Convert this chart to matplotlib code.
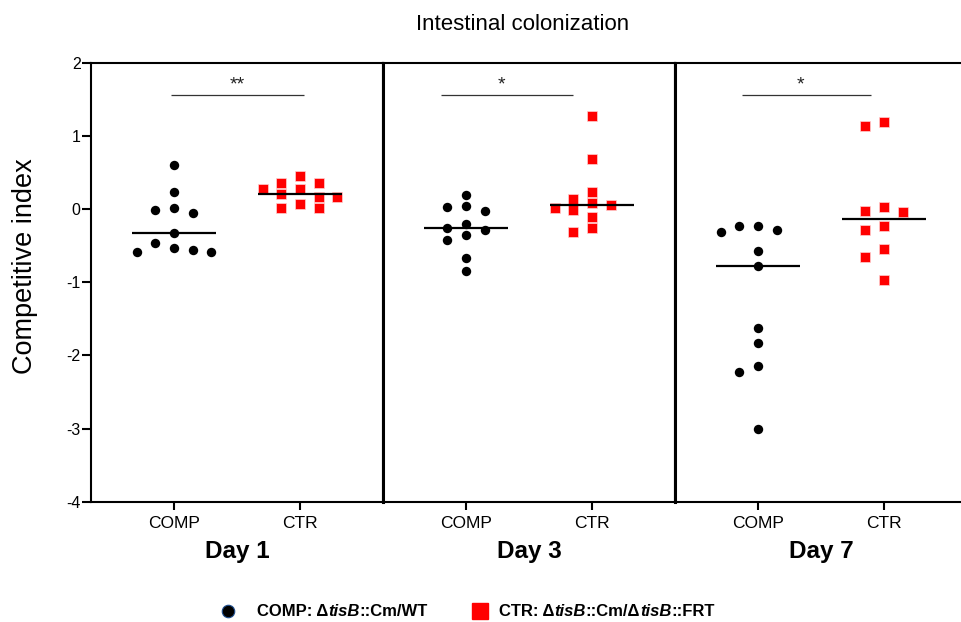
import numpy as np
import matplotlib
matplotlib.use("Agg")
import matplotlib.pyplot as plt
from matplotlib.offsetbox import TextArea, HPacker, AnchoredOffsetbox

plt.rcParams['font.family'] = ['Liberation Sans', 'DejaVu Sans']

# ---------------- data ----------------
days = ['Day 1', 'Day 3', 'Day 7']
groups = ['COMP', 'CTR']
comp_values = [
    [0.60, 0.23, 0.02, -0.02, -0.06, -0.33, -0.46, -0.59, -0.53, -0.59, -0.56],
    [0.19, -0.03, 0.03, 0.04, -0.20, -0.35, -0.28, -0.26, -0.42, -0.67, -0.85],
    [-0.28, -0.32, -0.23, -0.23, -0.57, -0.78, -1.62, -1.83, -2.15, -2.23, -3.00],
]
ctr_values = [
    [0.45, 0.27, 0.35, 0.16, 0.01, 0.21, 0.07, 0.36, 0.16, 0.02, 0.27],
    [1.27, 0.68, 0.23, 0.14, -0.01, 0.08, 0.01, 0.05, -0.11, -0.32, -0.26],
    [1.19, 1.13, -0.03, -0.04, 0.03, -0.23, -0.29, -0.54, -0.66, -0.97],
]
significance = ['**', '*', '*']
yticks = [2, 1, 0, -1, -2, -3, -4]

# ---------------- layout ----------------
W, H = 962, 622
fig = plt.figure(figsize=(W / 100, H / 100), dpi=100)
ax_left_px, panel_w_px = 91, 292
ax_top_px, ax_bot_px = 62.7, 501.7
tick0_px, unit_px = 83, 126
xlim = (-tick0_px / unit_px, (panel_w_px - tick0_px) / unit_px)
sig_spans = [(-0.02, 1.03), (-0.20, 0.85), (-0.13, 0.90)]
star_x = [0.50, 0.28, 0.34]
step = 0.148      # swarm column step (x units)
ythresh = 0.14    # vertical collision distance (y units)


def swarm(values):
    vals = np.asarray(values, float)
    order = np.argsort(-vals, kind='stable')
    offs = np.zeros(len(vals))
    placed = []
    cands = [0, -1, 1, -2, 2, -3, 3, -4, 4]
    for i in order:
        for k in cands:
            if all(not (offs[j] == k and abs(vals[i] - vals[j]) < ythresh) for j in placed):
                offs[i] = k
                break
        placed.append(i)
    return offs * step


axes = []
for p, day in enumerate(days):
    left = (ax_left_px + p * panel_w_px) / W
    ax = fig.add_axes([left, (H - ax_bot_px) / H, panel_w_px / W, (ax_bot_px - ax_top_px) / H])
    axes.append(ax)
    ax.set_xlim(*xlim)
    ax.set_ylim(-4, 2)
    for s in ax.spines.values():
        s.set_linewidth(1.5)
        s.set_color('black')
    if p > 0:
        ax.spines['left'].set_linewidth(2.2)
    if p == 2:
        ax.spines['right'].set_visible(False)

    cv = comp_values[p]
    tv = ctr_values[p]
    ax.scatter(0 + swarm(cv), cv, s=46, marker='o', color='black', zorder=3, linewidths=0)
    ax.scatter(1 + swarm(tv), tv, s=44, marker='s', color='#ff0000', edgecolors='#ffd0d0',
               linewidths=0.5, zorder=3)
    ax.hlines([np.median(cv)], -0.33, 0.33, color='black', lw=1.6, zorder=4)
    ax.hlines([np.median(tv)], 1 - 0.33, 1 + 0.33, color='black', lw=1.6, zorder=4)

    x0, x1 = sig_spans[p]
    ax.hlines([1.56], x0, x1, color='#333333', lw=0.9)
    ax.text(star_x[p], 1.69, significance[p], ha='center', va='center', fontsize=14, color='#222222')

    ax.set_xticks([0, 1])
    ax.set_xticklabels(groups, fontsize=12.5)
    ax.tick_params(axis='x', length=6, width=1.5, pad=4, direction='out')
    if p == 0:
        ax.set_yticks(yticks)
        ax.set_yticklabels([str(t) for t in yticks], fontsize=11.5)
        ax.tick_params(axis='y', length=6.5, width=1.5, pad=1, direction='out')
    else:
        ax.set_yticks([])
    ax.set_xlabel(day, fontsize=17.5, fontweight='bold', labelpad=7)

fig.text(25 / W, 1 - 266 / H, 'Competitive index', rotation=90, ha='center', va='center', fontsize=19.5)
fig.text(523 / W, 1 - 24 / H, 'Intestinal colonization', ha='center', va='center', fontsize=16)

# ---------------- legend ----------------
leg_y = 1 - 611 / H
fig.lines.append(plt.Line2D([228 / W], [leg_y], transform=fig.transFigure, marker='o', markersize=9,
                            color='black', markeredgecolor='#1f4f8f', markeredgewidth=0.8, linestyle='none'))
fig.lines.append(plt.Line2D([480 / W], [leg_y], transform=fig.transFigure, marker='s', markersize=11,
                            color='#ff0000', linestyle='none'))


def legend_text(x_px, parts):
    boxes = []
    for txt, style in parts:
        boxes.append(TextArea(txt, textprops=dict(fontsize=12, fontweight='bold', fontstyle=style)))
    pack = HPacker(children=boxes, align='baseline', pad=0, sep=0)
    ab = AnchoredOffsetbox(loc='center left', child=pack, pad=0, frameon=False,
                           bbox_to_anchor=(x_px / W, leg_y), bbox_transform=fig.transFigure, borderpad=0)
    fig.add_artist(ab)


legend_text(257, [('COMP: \u0394', 'normal'), ('tisB', 'italic'), ('::Cm/WT', 'normal')])
legend_text(499, [('CTR: \u0394', 'normal'), ('tisB', 'italic'), ('::Cm/\u0394', 'normal'),
                  ('tisB', 'italic'), ('::FRT', 'normal')])

fig.savefig('out.png', dpi=100)
